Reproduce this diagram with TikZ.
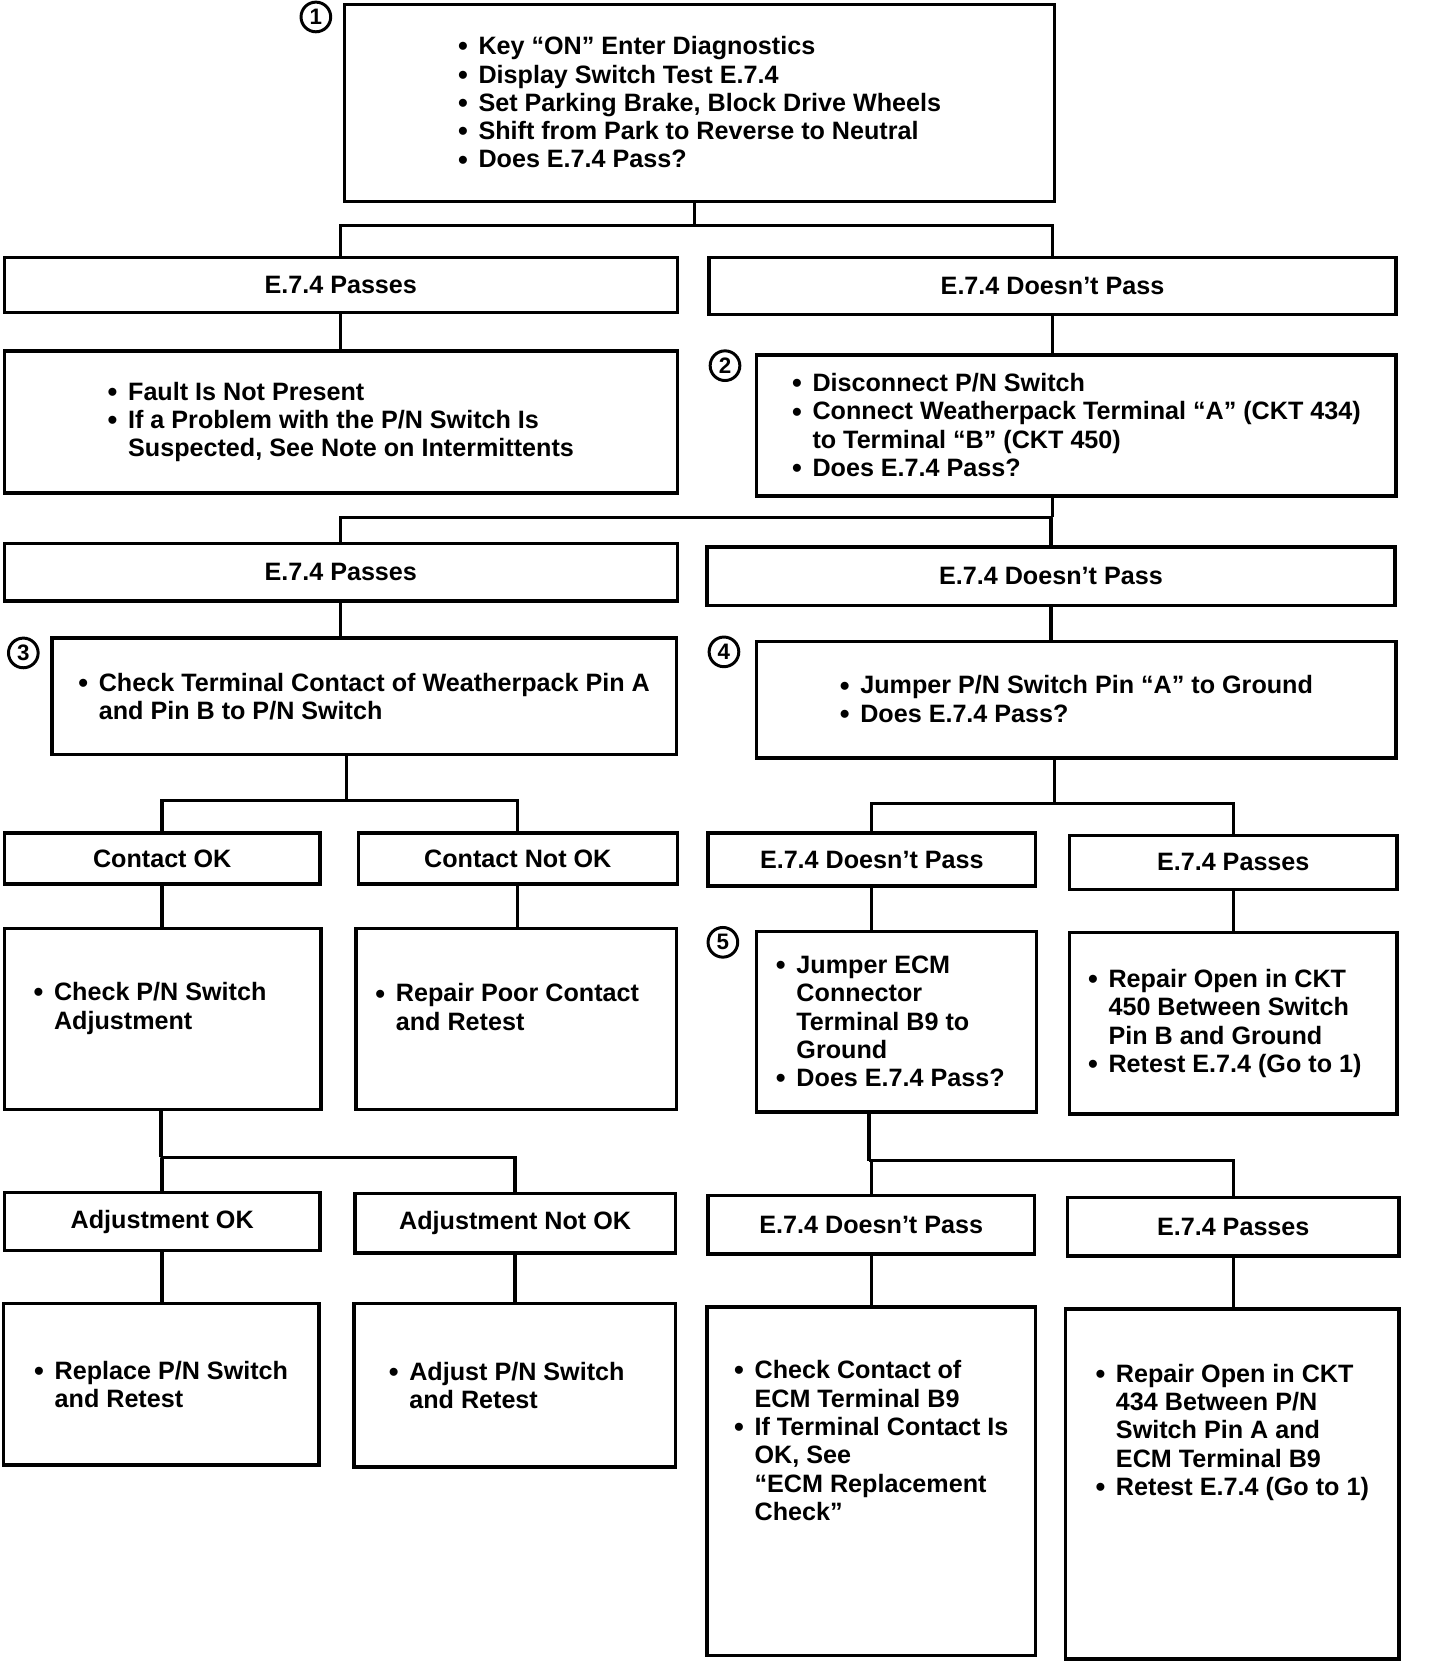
\documentclass[tikz,border=0pt]{standalone}
\usepackage{fontspec}
\setmainfont{Liberation Sans}
\newcommand{\bitem}{\makebox[11pt][l]{\raisebox{-0.6pt}{\fontsize{15}{15}\selectfont\textbullet}}}
\newcommand{\bcont}{\hspace*{11pt}}
\begin{document}
\begin{tikzpicture}[x=0.2mm,y=-0.2mm,
  box/.style={draw,line width=1.8pt,rectangle,align=left,inner sep=0pt,
    font=\fontsize{13.5}{15.2}\selectfont\bfseries},
  num/.style={draw,circle,line width=1.6pt,minimum size=5.6mm,inner sep=0pt,
    font=\fontsize{12}{12}\selectfont\bfseries},
  link/.style={line width=1.8pt}]

\useasboundingbox (0,0) rectangle (1359,1568);

\coordinate (split-a) at (655,213);
\coordinate (split-b) at (993,488);
\coordinate (split-c) at (327,755);
\coordinate (split-d) at (152,1092);
\coordinate (split-e) at (995,758);
\coordinate (split-f) at (820,1095);

\node[box,minimum width=134mm,minimum height=37.2mm] (key-on) at (660,97)
  {\bitem Key “ON” Enter Diagnostics\\
   \bitem Display Switch Test E.7.4\\
   \bitem Set Parking Brake, Block Drive Wheels\\
   \bitem Shift from Park to Reverse to Neutral\\
   \bitem Does E.7.4 Pass?};

\node[box,minimum width=127mm,minimum height=10.4mm] (passes-a) at (321.5,269) {E.7.4 Passes};
\node[box,minimum width=129.6mm,minimum height=10.8mm] (fails-a) at (993,270) {E.7.4 Doesn't Pass};

\node[box,minimum width=127mm,minimum height=26.8mm] (no-fault) at (321.5,398)
  {\bitem Fault Is Not Present\\
   \bitem If a Problem with the P/N Switch Is\\
   \bcont Suspected, See Note on Intermittents};
\node[box,minimum width=120.6mm,minimum height=26.6mm] (disconnect) at (1015.5,401.5)
  {\bitem Disconnect P/N Switch\\
   \bitem Connect Weatherpack Terminal “A” (CKT 434)\\
   \bcont to Terminal “B” (CKT 450)\\
   \bitem Does E.7.4 Pass?};

\node[box,minimum width=127mm,minimum height=10.8mm] (passes-b) at (321.5,540) {E.7.4 Passes};
\node[box,minimum width=129.8mm,minimum height=11mm] (fails-b) at (991.5,543.5) {E.7.4 Doesn't Pass};

\node[box,minimum width=117.8mm,minimum height=22mm] (check-pins) at (343.5,657)
  {\bitem Check Terminal Contact of Weatherpack Pin A\\
   \bcont and Pin B to P/N Switch};
\node[box,minimum width=120.6mm,minimum height=22mm] (jumper-pin) at (1015.5,660)
  {\bitem Jumper P/N Switch Pin “A” to Ground\\
   \bitem Does E.7.4 Pass?};

\node[box,minimum width=59.6mm,minimum height=9.6mm] (contact-ok) at (153,810) {Contact OK};
\node[box,minimum width=60.2mm,minimum height=9.6mm] (contact-bad) at (488.5,810) {Contact Not OK};

\node[box,minimum width=59.8mm,minimum height=34.2mm] (check-adjust) at (153.5,961.5)
  {\bitem Check P/N Switch\hspace*{4.8mm}\\
   \bcont Adjustment\rule[-5mm]{0pt}{0pt}};
\node[box,minimum width=60.4mm,minimum height=34.2mm] (repair-contact) at (487,961.5)
  {\bitem Repair Poor Contact\hspace*{3.4mm}\\
   \bcont and Retest\rule[-4.6mm]{0pt}{0pt}};

\node[box,minimum width=59.6mm,minimum height=11mm] (adjust-ok) at (153,1152.5) {Adjustment OK};
\node[box,minimum width=60.4mm,minimum height=11.2mm] (adjust-bad) at (486,1154) {Adjustment Not OK};

\node[box,minimum width=59.6mm,minimum height=30.4mm] (replace-switch) at (152,1306)
  {\bitem Replace P/N Switch\\
   \bcont and Retest};
\node[box,minimum width=60.6mm,minimum height=30.8mm] (adjust-switch) at (485.5,1307)
  {\bitem Adjust P/N Switch\hspace*{3mm}\\
   \bcont and Retest};

\node[box,minimum width=61.8mm,minimum height=10mm] (fails-c) at (822.5,811) {E.7.4 Doesn't Pass};
\node[box,minimum width=61.8mm,minimum height=10.2mm] (passes-c) at (1163.5,813.5) {E.7.4 Passes};

\node[box,minimum width=52.8mm,minimum height=34mm] (jumper-ecm) at (846,964)
  {\bitem Jumper ECM\\
   \bcont Connector\\
   \bcont Terminal B9 to\\
   \bcont Ground\\
   \bitem Does E.7.4 Pass?\hspace*{2.4mm}};
\node[box,minimum width=61.8mm,minimum height=34.2mm] (repair-450) at (1163.5,965.5)
  {\bitem Repair Open in CKT\\
   \bcont 450 Between Switch\\
   \bcont Pin B and Ground\\
   \bitem Retest E.7.4 (Go to 1)\hspace*{3.2mm}};

\node[box,minimum width=61.6mm,minimum height=11mm] (fails-d) at (822,1155.5) {E.7.4 Doesn't Pass};
\node[box,minimum width=62.6mm,minimum height=11mm] (passes-d) at (1163.5,1157.5) {E.7.4 Passes};

\node[box,minimum width=62mm,minimum height=65.8mm] (check-ecm) at (822,1397.5)
  {\bitem Check Contact of\\
   \bcont ECM Terminal B9\\
   \bitem If Terminal Contact Is\\
   \bcont OK, See\\
   \bcont “ECM Replacement\\
   \bcont Check”\rule[-15.4mm]{0pt}{0pt}};
\node[box,minimum width=63mm,minimum height=66mm] (repair-434) at (1162.5,1400)
  {\bitem Repair Open in CKT\\
   \bcont 434 Between P/N\\
   \bcont Switch Pin A and\\
   \bcont ECM Terminal B9\\
   \bitem Retest E.7.4 (Go to 1)\rule[-20.4mm]{0pt}{0pt}};

\node[num] (step-1) at (298,16) {1};
\node[num] (step-2) at (684,345) {2};
\node[num] (step-3) at (22,616) {3};
\node[num] (step-4) at (683,615) {4};
\node[num] (step-5) at (682,889) {5};

\draw[link] (key-on.south -| split-a) -- (split-a);
\draw[link] (passes-a.north) |- (split-a) -| (fails-a.north);
\draw[link] (passes-a.south) -- (passes-a.south |- no-fault.north);
\draw[link] (fails-a.south) -- (fails-a.south |- disconnect.north);

\draw[link] (disconnect.south -| split-b) -- (split-b);
\draw[link] (passes-b.north) |- (split-b) -| (fails-b.north);
\draw[link] (passes-b.south) -- (passes-b.south |- check-pins.north);
\draw[link] (fails-b.south) -- (fails-b.south |- jumper-pin.north);

\draw[link] (check-pins.south -| split-c) -- (split-c);
\draw[link] (contact-ok.north) |- (split-c) -| (contact-bad.north);
\draw[link] (contact-ok.south) -- (contact-ok.south |- check-adjust.north);
\draw[link] (contact-bad.south) -- (contact-bad.south |- repair-contact.north);

\draw[link] (check-adjust.south -| split-d) -- (split-d);
\draw[link] (adjust-ok.north) |- (split-d) -| (adjust-bad.north);
\draw[link] (adjust-ok.south) -- (adjust-ok.south |- replace-switch.north);
\draw[link] (adjust-bad.south) -- (adjust-bad.south |- adjust-switch.north);

\draw[link] (jumper-pin.south -| split-e) -- (split-e);
\draw[link] (fails-c.north) |- (split-e) -| (passes-c.north);
\draw[link] (fails-c.south) -- (fails-c.south |- jumper-ecm.north);
\draw[link] (passes-c.south) -- (passes-c.south |- repair-450.north);

\draw[link] (jumper-ecm.south -| split-f) -- (split-f);
\draw[link] (fails-d.north) |- (split-f) -| (passes-d.north);
\draw[link] (fails-d.south) -- (fails-d.south |- check-ecm.north);
\draw[link] (passes-d.south) -- (passes-d.south |- repair-434.north);

\end{tikzpicture}
\end{document}
